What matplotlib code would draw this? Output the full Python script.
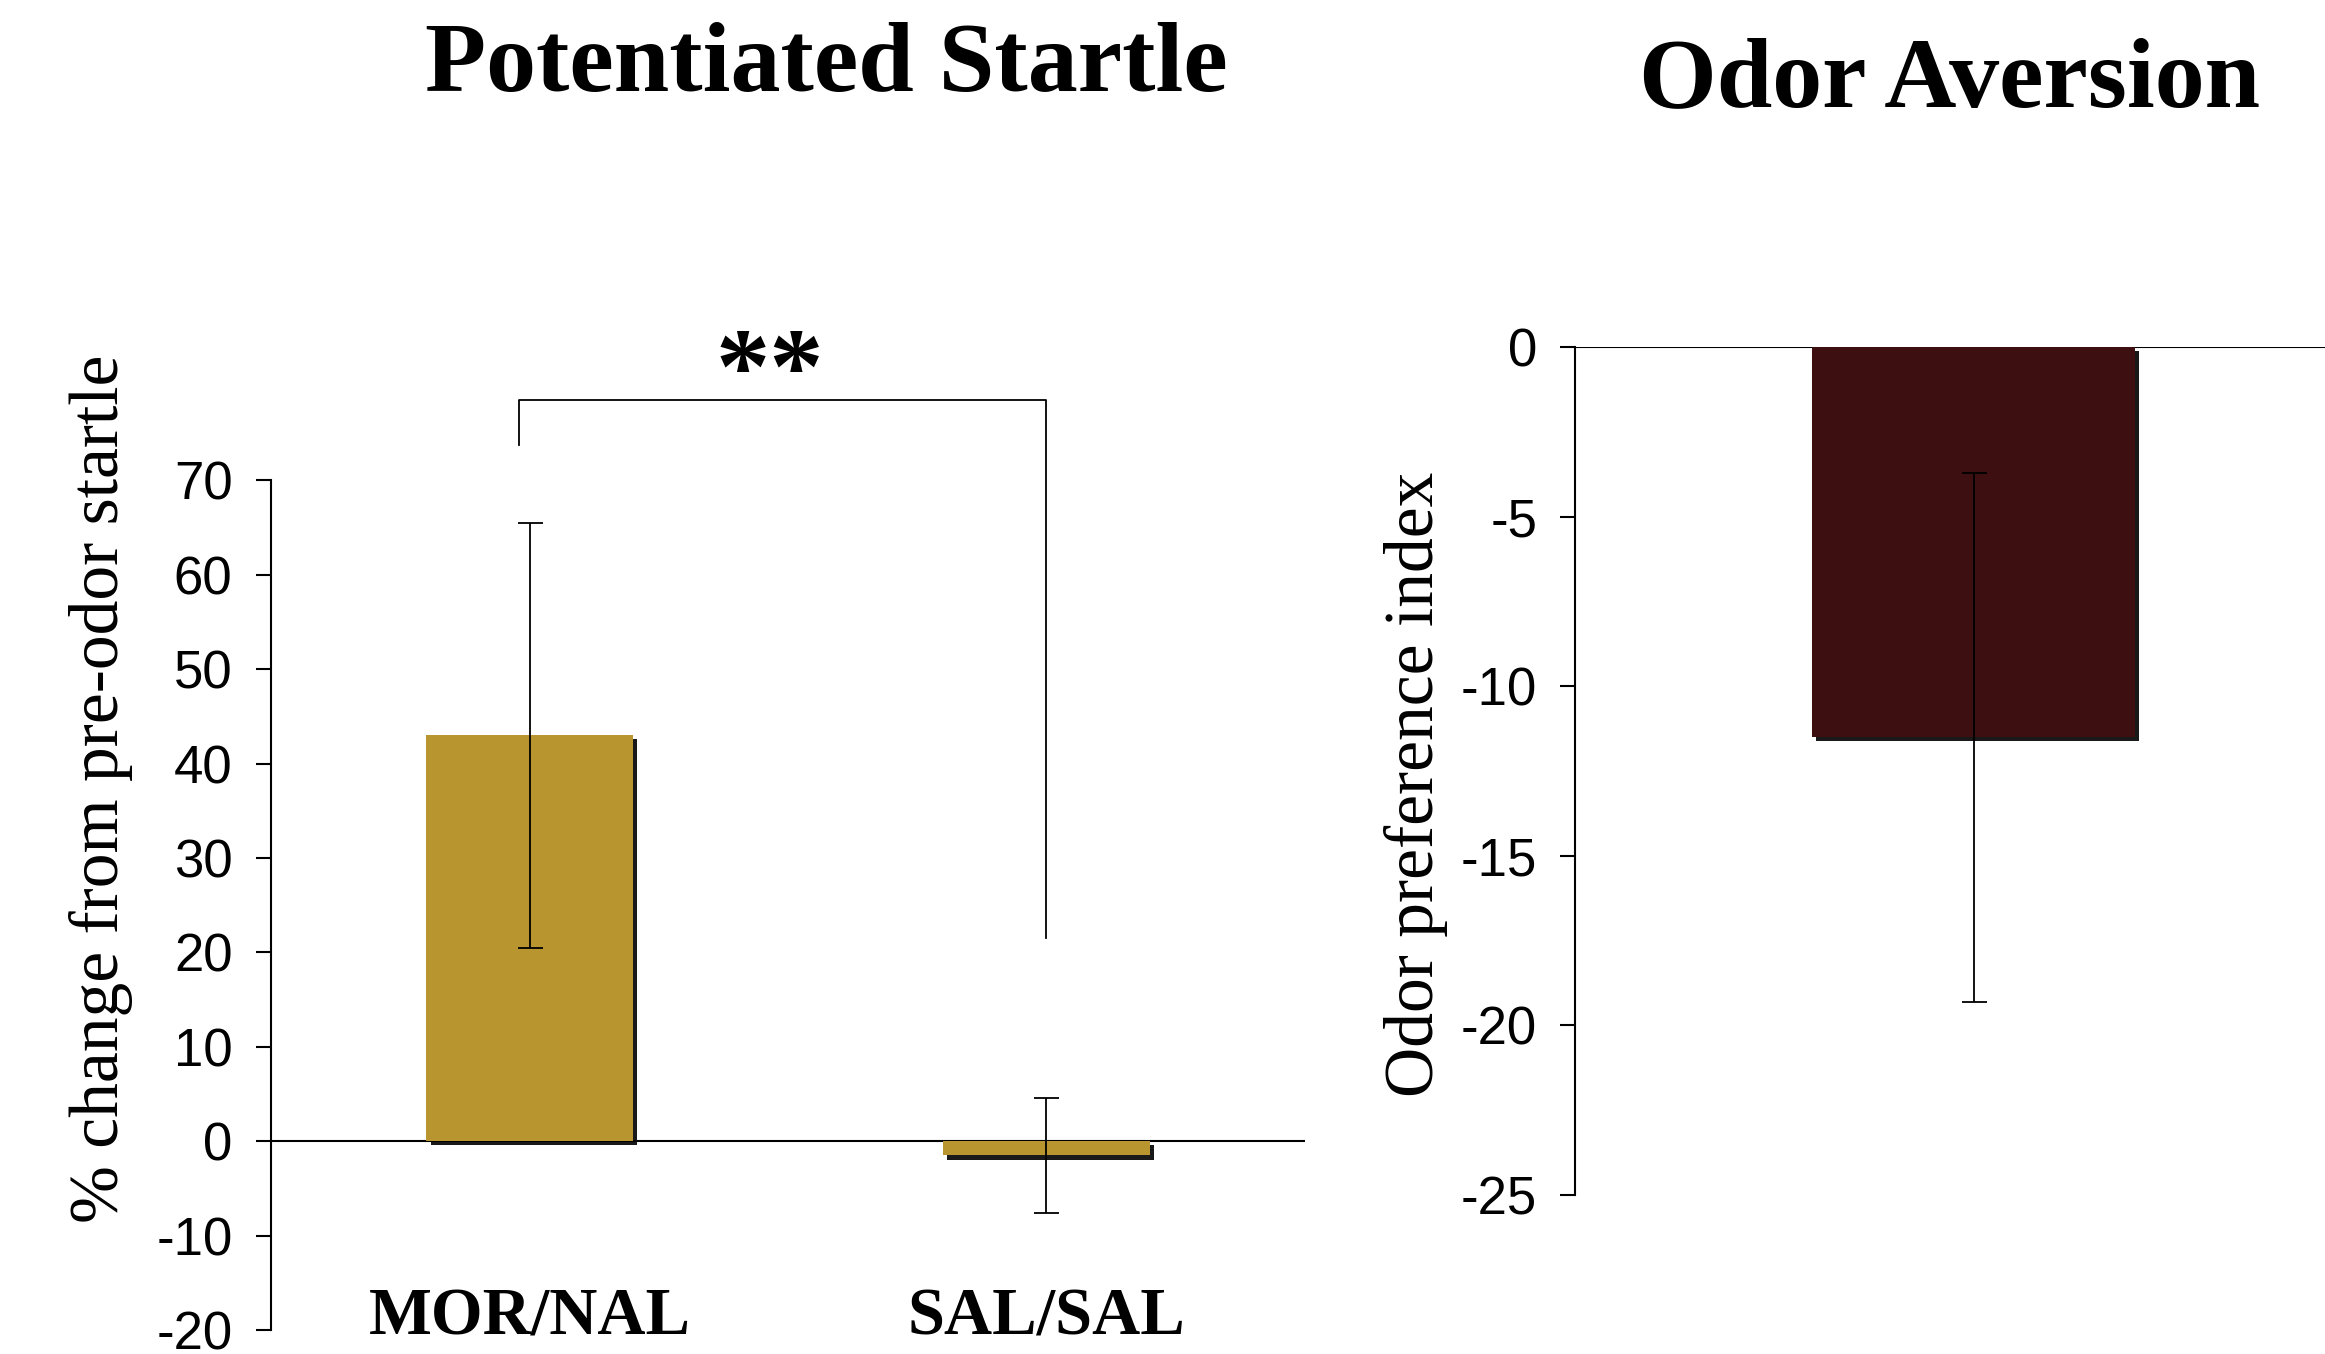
import numpy as np
import matplotlib
matplotlib.use("Agg")
import matplotlib.pyplot as plt
import matplotlib.patheffects as pe

# Potentiated startle data
startle_groups = ["MOR/NAL", "SAL/SAL"]
startle_mean = [43.0, -1.5]
startle_err = [22.5, 6.1]
startle_ticks = [-20, -10, 0, 10, 20, 30, 40, 50, 60, 70]

# Odor aversion data
aversion_mean = [-11.5]
aversion_err = [7.8]
aversion_ticks = [-25, -20, -15, -10, -5, 0]

gold = "#B8952F"
maroon = "#3E0F10"
serif = "Liberation Serif"
sans = "Liberation Sans"

plt.rcParams["axes.unicode_minus"] = False

fig = plt.figure(figsize=(23.25, 13.54), dpi=100)
shadow = [pe.SimplePatchShadow(offset=(3, -3), shadow_rgbFace="k", alpha=0.9), pe.Normal()]

#_____________________________________________________
# Left panel
ax1 = fig.add_axes([0.1167, 0.0177, 0.4445, 0.6275])
x = np.arange(len(startle_groups))
bars = ax1.bar(x, startle_mean, width=0.4, color=gold, zorder=2)
for b in bars:
    b.set_path_effects(shadow)
ax1.errorbar(x, startle_mean, yerr=startle_err, fmt="none", ecolor="k",
             elinewidth=1.3, capsize=9, capthick=1.3, zorder=3)
ax1.axhline(0, color="k", lw=1.5, zorder=1)
ax1.set_xlim(-0.5, 1.5)
ax1.set_ylim(-20, 70)
ax1.set_yticks(startle_ticks)
ax1.set_xticks([])
for s in ["top", "right", "bottom"]:
    ax1.spines[s].set_visible(False)
ax1.spines["left"].set_linewidth(1.5)
ax1.tick_params(axis="y", length=11, width=1.5, pad=17, labelsize=38)
for lab in ax1.get_yticklabels():
    lab.set_family(sans)
for xi, name in zip(x, startle_groups):
    ax1.text(xi, -18.7, name, ha="center", va="center", fontsize=48,
             fontweight="bold", family=serif, clip_on=False)

# significance bracket
ax1.plot([-0.02, -0.02, 1.0, 1.0], [73.8, 78.5, 78.5, 21.5], color="k",
         lw=1.3, clip_on=False)
ax1.text(0.464, 75.8, "**", ha="center", va="bottom", fontsize=78,
         fontweight="bold", family=serif, clip_on=False)

fig.text(0.0434, 0.4173, "% change from pre-odor startle", rotation=90,
         ha="center", va="center", fontsize=50, family=serif)
fig.text(0.3553, 0.9505, "Potentiated Startle", ha="center", va="center",
         fontsize=72, fontweight="bold", family=serif)

#_____________________________________________________
# Right panel
ax2 = fig.add_axes([0.6773, 0.1174, 0.3431, 0.6263])
bars2 = ax2.bar([0], aversion_mean, width=0.405, color=maroon, zorder=2)
for b in bars2:
    b.set_path_effects(shadow)
ax2.errorbar([0], aversion_mean, yerr=aversion_err, fmt="none", ecolor="k",
             elinewidth=1.3, capsize=9, capthick=1.3, zorder=3)
ax2.axhline(0, color="k", lw=1.5, zorder=1)
ax2.set_xlim(-0.5, 0.5)
ax2.set_ylim(-25, 0)
ax2.set_yticks(aversion_ticks)
ax2.set_xticks([])
for s in ["top", "right", "bottom"]:
    ax2.spines[s].set_visible(False)
ax2.spines["left"].set_linewidth(1.5)
ax2.tick_params(axis="y", length=11, width=1.5, pad=16, labelsize=38)
for lab in ax2.get_yticklabels():
    lab.set_family(sans)

fig.text(0.609, 0.421, "Odor preference index", rotation=90,
         ha="center", va="center", fontsize=50, family=serif)
fig.text(0.8387, 0.9394, "Odor Aversion", ha="center", va="center",
         fontsize=72, fontweight="bold", family=serif)

fig.savefig("out.png", dpi=100)
